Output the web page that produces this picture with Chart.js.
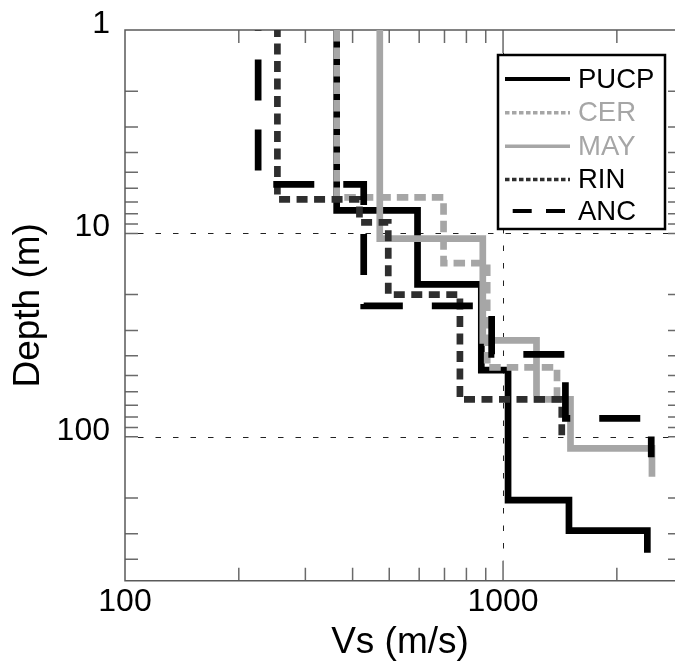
<!DOCTYPE html>
<html>
<head>
<meta charset="utf-8">
<script src="https://cdn.jsdelivr.net/npm/chart.js@4/dist/chart.umd.min.js"></script>
<style>
html,body{margin:0;padding:0;background:#fff;overflow:hidden}
#wrap{width:675px;height:669px;position:relative}
</style>
</head>
<body>
<div id="wrap"><canvas id="c" width="675" height="669"></canvas></div>
<script>
// ---- data ----
const seriesNames = ['PUCP', 'CER', 'MAY', 'RIN', 'ANC'];

// layer velocities (m/s) and layer boundary depths (m)
const pucpVs    = [363, 594, 876, 1031, 1494, 2408];
const pucpDepth = [1, 7.7, 17.8, 47, 205, 289, 372];

const cerVs     = [363, 696, 908, 1389];
const cerDepth  = [1, 6.65, 14.0, 45.6, 65.5];

const mayVs     = [472, 884, 1226, 1508, 2477];
const mayDepth  = [1, 10.6, 33.6, 65.5, 114, 157];

const rinVs     = [253, 417, 497, 769, 1430];
const rinDepth  = [1, 6.8, 8.82, 20.0, 65.5, 100];

const ancVs     = [225, 428, 933, 1462, 2466];
const ancDepth  = [1, 5.74, 22.7, 39.3, 81.2, 126];

const xTickValues  = [100, 1000];
const yTickValues  = [1, 10, 100];
const xMinorValues = [200, 300, 400, 500, 600, 700, 800, 900, 2000];
const yMinorValues = [2, 3, 4, 5, 6, 7, 8, 9, 20, 30, 40, 50, 60, 70, 80, 90, 200, 300, 400];
const xGridValues  = [1000];
const yGridValues  = [10, 100];

// ---- helpers ----
function steps(vs, depth) {
  const pts = [];
  for (let i = 0; i < vs.length; i++) {
    pts.push({x: vs[i], y: depth[i]});
    pts.push({x: vs[i], y: depth[i + 1]});
  }
  return pts;
}

const FONT = '"Liberation Sans", Arial, Helvetica, sans-serif';
const LIGHT = '#a6a6a6';
const DARK = '#2e2e2e';

const styles = [
  {color: '#000', dash: [], offset: 0, order: 5, legendDash: [], legendWidth: 4, text: '#000'},
  {color: LIGHT, dash: [11.5, 6], offset: 0, order: 4, legendDash: [4.5, 2.5], legendWidth: 3.5, text: LIGHT},
  {color: LIGHT, dash: [], offset: 0, order: 3, legendDash: [], legendWidth: 3.5, text: LIGHT},
  {color: DARK, dash: [11, 6.5], offset: 4, order: 2, legendDash: [4.5, 2.5], legendWidth: 3.5, text: '#000'},
  {color: '#000', dash: [41, 29], offset: 40.5, order: 1, legendDash: [19, 14.3], legendWidth: 4, text: '#000'}
];

const allData = [
  steps(pucpVs, pucpDepth),
  steps(cerVs, cerDepth),
  steps(mayVs, mayDepth),
  steps(rinVs, rinDepth),
  steps(ancVs, ancDepth)
];

const datasets = seriesNames.map((name, i) => ({
  label: name,
  data: allData[i],
  showLine: true,
  borderColor: styles[i].color,
  backgroundColor: styles[i].color,
  borderWidth: 6.7,
  borderDash: styles[i].dash,
  borderDashOffset: styles[i].offset,
  borderCapStyle: 'butt',
  borderJoinStyle: 'miter',
  pointRadius: 0,
  pointHoverRadius: 0,
  tension: 0,
  fill: false,
  order: styles[i].order
}));

// ---- frame, ticks, grid ----
const framePlugin = {
  id: 'frame',
  beforeDatasetsDraw(chart) {
    const {ctx, chartArea: ca, scales: {x, y}} = chart;
    ctx.save();
    // grid lines
    ctx.strokeStyle = '#222';
    ctx.lineWidth = 1;
    ctx.setLineDash([5.5, 12]);
    yGridValues.forEach(v => {
      const py = Math.round(y.getPixelForValue(v)) + 0.5;
      ctx.beginPath(); ctx.moveTo(ca.left + 13, py); ctx.lineTo(ca.right, py); ctx.stroke();
    });
    xGridValues.forEach(v => {
      const px = Math.round(x.getPixelForValue(v)) + 0.5;
      ctx.beginPath(); ctx.moveTo(px, ca.top + 23); ctx.lineTo(px, ca.bottom - 20); ctx.stroke();
    });
    ctx.setLineDash([]);
    // tick marks
    ctx.strokeStyle = '#6a6a6a';
    ctx.lineWidth = 1.5;
    xMinorValues.forEach(v => {
      const px = x.getPixelForValue(v);
      ctx.beginPath();
      ctx.moveTo(px, ca.top); ctx.lineTo(px, ca.top + 13);
      ctx.moveTo(px, ca.bottom); ctx.lineTo(px, ca.bottom - 13);
      ctx.stroke();
    });
    xGridValues.forEach(v => {
      const px = x.getPixelForValue(v);
      ctx.beginPath();
      ctx.moveTo(px, ca.top); ctx.lineTo(px, ca.top + 23);
      ctx.moveTo(px, ca.bottom); ctx.lineTo(px, ca.bottom - 20);
      ctx.stroke();
    });
    yMinorValues.concat(yGridValues).forEach(v => {
      const py = y.getPixelForValue(v);
      ctx.beginPath();
      ctx.moveTo(ca.left, py); ctx.lineTo(ca.left + 13, py);
      ctx.moveTo(ca.right, py); ctx.lineTo(ca.right - 7, py);
      ctx.stroke();
    });
    // axis lines
    ctx.strokeStyle = '#5a5a5a';
    ctx.lineWidth = 1.5;
    ctx.beginPath();
    ctx.moveTo(ca.right, ca.top); ctx.lineTo(ca.left, ca.top);
    ctx.lineTo(ca.left, ca.bottom); ctx.lineTo(ca.right, ca.bottom);
    ctx.stroke();
    ctx.restore();
  }
};

// ---- inset legend ----
const legendPlugin = {
  id: 'insetLegend',
  afterDatasetsDraw(chart) {
    const ctx = chart.ctx;
    const bx = 498, by = 55, bw = 167, bh = 174;
    const rowY = [79, 112.7, 146.3, 179.5, 211];
    ctx.save();
    ctx.fillStyle = '#fff';
    ctx.fillRect(bx, by, bw, bh);
    ctx.lineWidth = 2.5;
    ctx.strokeStyle = '#000';
    ctx.strokeRect(bx, by, bw, bh);
    chart.data.datasets.forEach((ds, i) => {
      const st = styles[i];
      const yy = rowY[i];
      const x0 = i === 4 ? 512.7 : 505;
      const x1 = i === 4 ? 565 : 570;
      ctx.beginPath();
      ctx.setLineDash(st.legendDash);
      ctx.lineWidth = st.legendWidth;
      ctx.strokeStyle = st.color;
      ctx.moveTo(x0, yy); ctx.lineTo(x1, yy);
      ctx.stroke();
      ctx.setLineDash([]);
      ctx.fillStyle = st.text;
      ctx.font = '27.5px ' + FONT;
      ctx.textBaseline = 'middle';
      ctx.textAlign = 'left';
      ctx.fillText(ds.label, 578, yy + 1);
    });
    ctx.restore();
  }
};

new Chart(document.getElementById('c'), {
  type: 'scatter',
  data: {datasets},
  plugins: [framePlugin, legendPlugin],
  options: {
    responsive: false,
    animation: false,
    devicePixelRatio: 1,
    layout: {padding: {top: 30, right: 0, left: 0, bottom: 0}},
    plugins: {legend: {display: false}, tooltip: {enabled: false}},
    events: [],
    scales: {
      x: {
        type: 'logarithmic',
        position: 'bottom',
        min: 100,
        max: 2850,
        grid: {display: false, drawTicks: false},
        border: {display: false},
        afterBuildTicks: s => { s.ticks = xTickValues.map(v => ({value: v})); },
        afterFit: s => { s.height = 88.3; s.paddingLeft = 0; s.paddingRight = 0; },
        ticks: {
          color: '#000',
          font: {family: FONT, size: 32},
          padding: 2,
          maxRotation: 0,
          autoSkip: false,
          callback: v => String(v)
        },
        title: {
          display: true,
          text: 'Vs (m/s)',
          color: '#000',
          font: {family: FONT, size: 37},
          padding: {top: 0, bottom: 4}
        }
      },
      y: {
        type: 'logarithmic',
        position: 'left',
        reverse: true,
        min: 1,
        max: 510,
        grid: {display: false, drawTicks: false},
        border: {display: false},
        afterBuildTicks: s => { s.ticks = yTickValues.map(v => ({value: v})); },
        afterFit: s => { s.width = 125; s.paddingTop = 0; s.paddingBottom = 0; },
        ticks: {
          color: '#000',
          font: {family: FONT, size: 32},
          padding: 15,
          labelOffset: -6,
          autoSkip: false,
          callback: v => String(v)
        },
        title: {
          display: true,
          text: 'Depth (m)',
          color: '#000',
          font: {family: FONT, size: 37},
          padding: {top: 7, bottom: 0}
        }
      }
    }
  }
});
</script>
</body>
</html>
